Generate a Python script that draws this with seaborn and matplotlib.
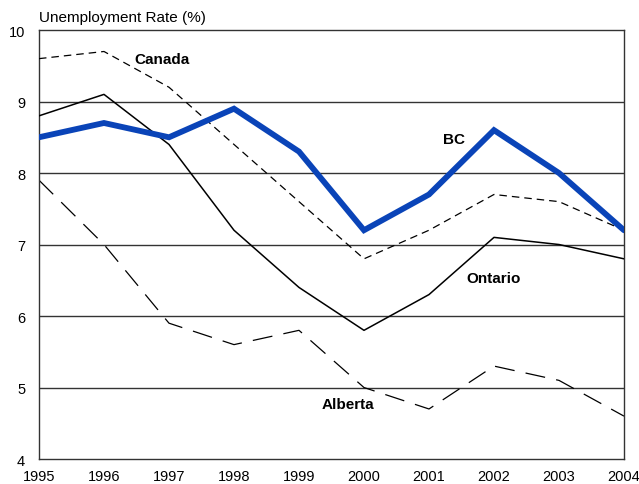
import pandas as pd
import numpy as np
import matplotlib
matplotlib.use("Agg")
import matplotlib.pyplot as plt
import seaborn as sns

years = [1995, 1996, 1997, 1998, 1999, 2000, 2001, 2002, 2003, 2004]
bc = [8.5, 8.7, 8.5, 8.9, 8.3, 7.2, 7.7, 8.6, 8.0, 7.2]
canada = [9.6, 9.7, 9.2, 8.4, 7.6, 6.8, 7.2, 7.7, 7.6, 7.2]
ontario = [8.8, 9.1, 8.4, 7.2, 6.4, 5.8, 6.3, 7.1, 7.0, 6.8]
alberta = [7.9, 7.0, 5.9, 5.6, 5.8, 5.0, 4.7, 5.3, 5.1, 4.6]

sns.set_style("white")
plt.rcParams['font.family'] = ['Liberation Sans', 'DejaVu Sans']
plt.rcParams['text.color'] = 'black'
plt.rcParams['xtick.labelcolor'] = 'black'
plt.rcParams['ytick.labelcolor'] = 'black'

fig = plt.figure(figsize=(6.39, 4.85), dpi=100)
ax = fig.add_axes([0.061, 0.0515, 0.9155, 0.8845])

ax.set_ylim(4, 10)
ax.set_xlim(1995, 2004)
for y in range(5, 10):
    ax.axhline(y, color="#333333", lw=1.0, zorder=1)

sns.lineplot(x=years, y=alberta, ax=ax, color="black", lw=0.9, zorder=2)
ax.lines[-1].set_dashes((16, 9))
sns.lineplot(x=years, y=canada, ax=ax, color="black", lw=0.9, zorder=3)
ax.lines[-1].set_dashes((6, 4))
sns.lineplot(x=years, y=ontario, ax=ax, color="black", lw=1.1, zorder=4)
sns.lineplot(x=years, y=bc, ax=ax, color="#0a44b8", lw=4.2, zorder=5,
             solid_joinstyle="miter")

# series labels
lab = dict(fontsize=11, fontweight="bold", ha="left", va="center", color="black")
ax.text(1996.46, 9.59, "Canada", **lab)
ax.text(2001.22, 8.48, "BC", **lab)
ax.text(2001.58, 6.53, "Ontario", **lab)
ax.text(1999.35, 4.77, "Alberta", **lab)

ax.set_xticks(years)
ax.set_xticklabels([str(y) for y in years])
ax.set_yticks(range(4, 11))
ax.tick_params(axis="x", direction="in", length=7, width=1, color="#333333",
               labelsize=10.5, pad=7, labelcolor="black")
ax.tick_params(axis="y", length=0, labelsize=10.5, pad=10, labelcolor="black")
for s in ax.spines.values():
    s.set_color("#333333")
    s.set_linewidth(1.0)
    s.set_visible(True)

fig.text(39 / 639, 1 - 18 / 485, "Unemployment Rate (%)", fontsize=11,
         ha="left", va="center", color="black")

fig.savefig("out.png", dpi=100)
